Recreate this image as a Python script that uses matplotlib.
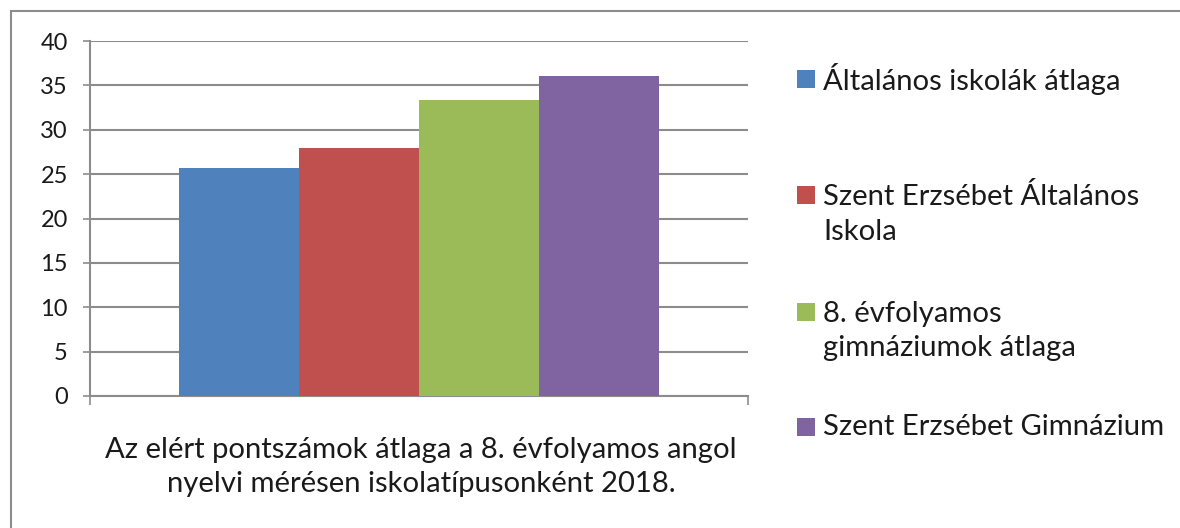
import matplotlib
matplotlib.use("Agg")
import matplotlib.pyplot as plt
from matplotlib.patches import Rectangle

categories = ["Általános iskolák átlaga",
              "Szent Erzsébet Általános\nIskola",
              "8. évfolyamos\ngimnáziumok átlaga",
              "Szent Erzsébet Gimnázium"]
values = [25.7, 27.9, 33.4, 36.1]
colors = ["#4F81BD", "#C0504D", "#9BBB59", "#8064A2"]
yticks = [0, 5, 10, 15, 20, 25, 30, 35, 40]
xlabel = "Az elért pontszámok átlaga a 8. évfolyamos angol\nnyelvi mérésen iskolatípusonként 2018."

W, H = 1180, 528
FONT = "Lato"
FS_TICK = 17
FS = 21.1
GRAY = "#8C8C8C"
TXT = "#1a1a1a"

fig = plt.figure(figsize=(W / 100, H / 100), dpi=100)
fig.patch.set_facecolor("white")

def fx(px):
    return px / W

def fy(py):
    return 1 - py / H

# outer frame (right and bottom edges fall outside the picture)
fig.patches.append(Rectangle((fx(11), fy(540)), fx(1200) - fx(11), fy(11) - fy(540),
                             transform=fig.transFigure, fill=False,
                             edgecolor=GRAY, linewidth=1.5))

ax = fig.add_axes([fx(90), fy(396), fx(748) - fx(90), fy(41) - fy(396)])
bw = 120 / 658
n = len(values)
for i, (v, c) in enumerate(zip(values, colors)):
    ax.bar((i - (n - 1) / 2) * bw, v, width=bw, color=c, zorder=3)

ax.set_xlim(-0.5, 0.5)
ax.set_ylim(0, 40)
ax.set_yticks(yticks)
ax.set_yticklabels([str(t) for t in yticks], fontfamily=FONT, fontsize=FS_TICK, color=TXT)
ax.yaxis.grid(True, color=GRAY, linewidth=1.5, zorder=0)
ax.set_axisbelow(True)
ax.tick_params(axis="y", length=5, width=1.2, color=GRAY, pad=11)
ax.set_xticks([])
ax.set_xticks([-0.5, 0.5], minor=True)
ax.tick_params(axis="x", which="minor", length=6.5, width=1.2, color=GRAY, direction="out")
for s in ["top", "right"]:
    ax.spines[s].set_visible(False)
for s in ["left", "bottom"]:
    ax.spines[s].set_color(GRAY)
    ax.spines[s].set_linewidth(1.5)

LS = 1.42
fig.text(fx(421), fy(467), xlabel, ha="center", va="center", color=TXT,
         fontfamily=FONT, fontsize=FS, linespacing=LS)

# legend
sq = 18
centers = [79, 214, 331, 427]
for lab, c, cy in zip(categories, colors, centers):
    nlines = lab.count("\n") + 1
    sq_cy = cy - 19 if nlines > 1 else cy
    fig.patches.append(Rectangle((fx(797), fy(sq_cy + sq / 2)), fx(sq), sq / H,
                                 transform=fig.transFigure, facecolor=c, edgecolor="none"))
    fig.text(fx(823), fy(cy), lab, ha="left", va="center", color=TXT,
             fontfamily=FONT, fontsize=FS, linespacing=LS)

fig.savefig("out.png", dpi=100)
